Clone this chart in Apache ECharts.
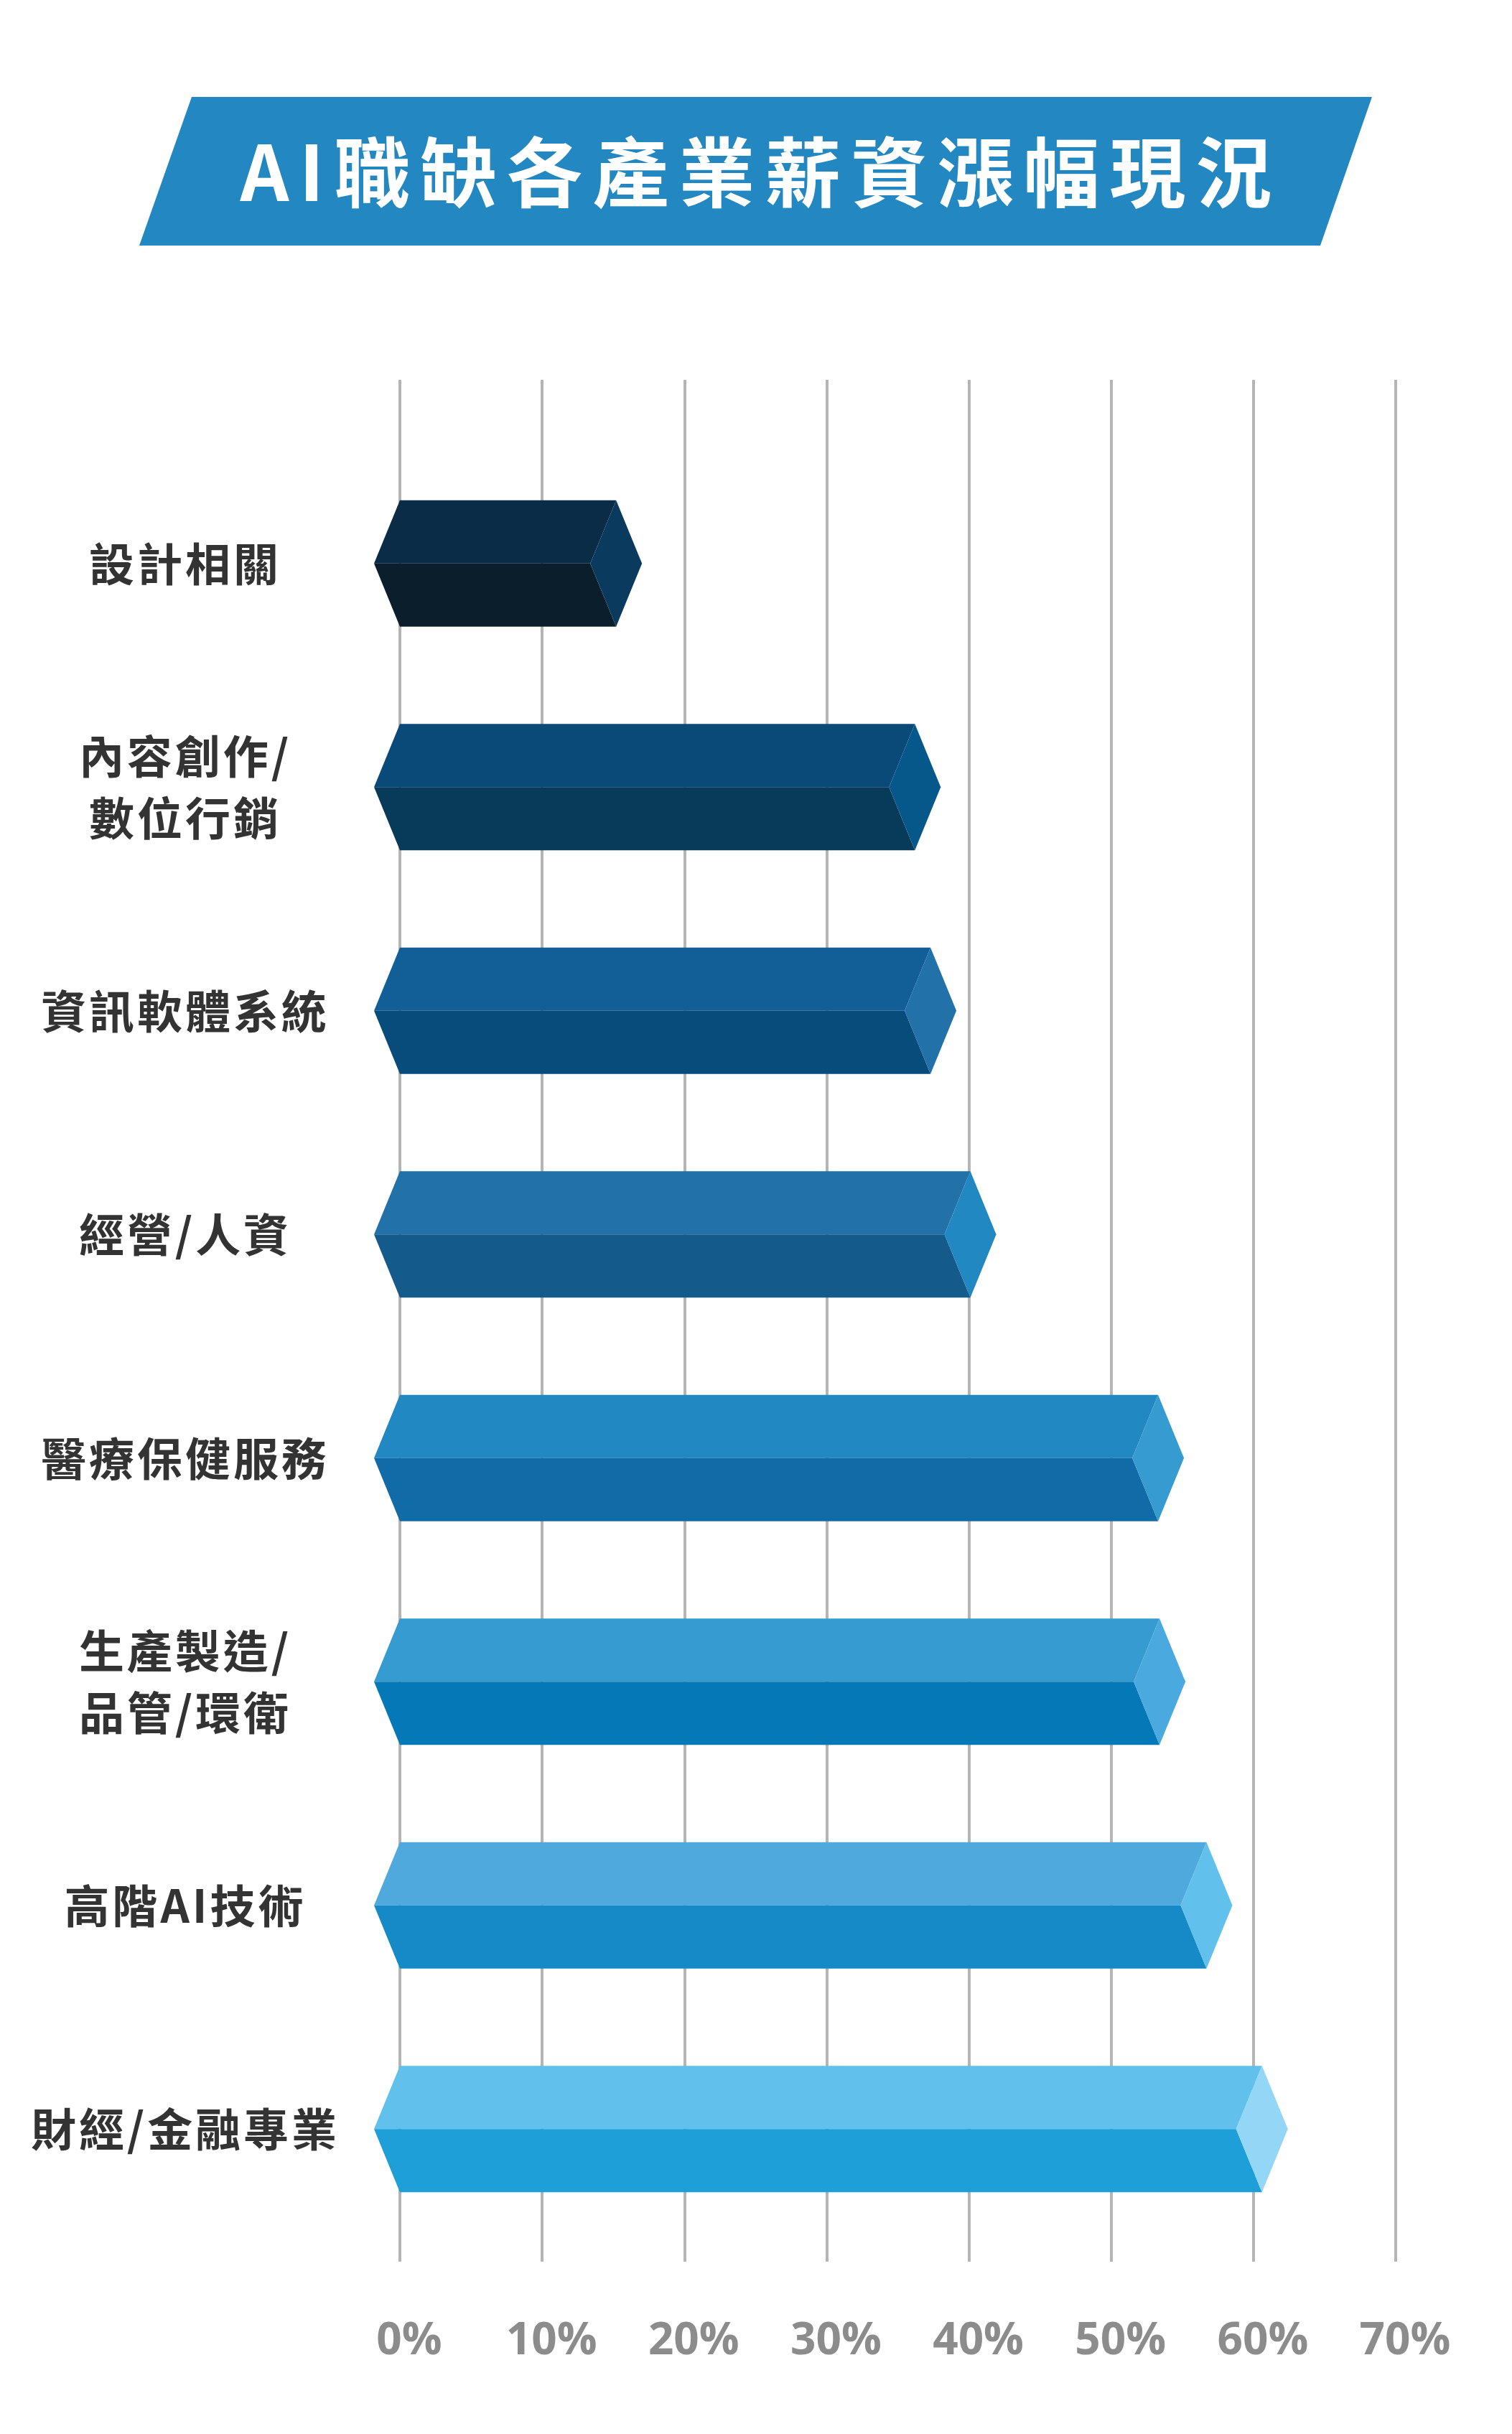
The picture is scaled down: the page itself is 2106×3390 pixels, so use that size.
<!DOCTYPE html>
<html>
<head>
<meta charset="utf-8">
<title>AI職缺各產業薪資漲幅現況</title>
<script src="https://cdn.jsdelivr.net/npm/echarts@6/dist/echarts.min.js"></script>
<style type="text/css">
html, body {margin: 0; padding: 0; background: #fff;}
#main {width: 2106px; height: 3390px;}
</style>
</head>
<body>
<div id="main"></div>
<script type="text/javascript">
// 資料
var categories = ['設計相關', '內容創作/\n數位行銷', '資訊軟體系統', '經營/人資', '醫療保健服務', '生產製造/\n品管/環衛', '高階AI技術', '財經/金融專業'];
var values = [15.2, 36.2, 37.3, 40.1, 53.3, 53.4, 56.7, 60.6];
var tickLabels = ['0%', '10%', '20%', '30%', '40%', '50%', '60%', '70%'];
var titleText = 'AI職缺各產業薪資漲幅現況';

// 每根柱子的三個面
var topColors = ['#0b2c47', '#0a4a79', '#125e96', '#2371a9', '#2288c2', '#359bd0', '#4fa9dd', '#61c0ec'];
var bottomColors = ['#0a1f2b', '#083a5a', '#084c7c', '#145a8b', '#116ba7', '#0579b8', '#158ac6', '#1e9fd8'];
var sideColors = ['#0a3b5e', '#07588a', '#2371a9', '#2188c2', '#359bd0', '#4aa9de', '#61c0ec', '#94d6f5'];

var FONT = '"Noto Sans CJK TC", "Noto Sans", sans-serif';
var HS = '\u200a';

function spaced(s) {
    return s.split('\n').map(function (line) {
        return line.split('').join(HS);
    }).join('\n');
}

var myChart = echarts.init(document.getElementById('main'));

var option = {
    backgroundColor: '#ffffff',
    animation: false,
    graphic: [
        {
            type: 'polygon',
            shape: {points: [[267, 135], [1911, 135], [1839, 342], [194, 342]]},
            style: {fill: '#2387c1'}
        },
        {
            type: 'text',
            x: 1053,
            y: 240,
            style: {
                text: titleText.split('').map(function (c) { return '{c|' + c + '}'; }).join(''),
                align: 'center',
                verticalAlign: 'middle',
                rich: {
                    c: {
                        font: 'bold 106px ' + FONT,
                        fill: '#ffffff',
                        padding: [0, 7, 0, 7]
                    }
                }
            }
        }
    ],
    grid: [
        {left: 557, right: 162, top: 529, bottom: 240},
        {left: 557, right: 162, top: 629, bottom: 269}
    ],
    xAxis: [
        {
            type: 'value',
            gridIndex: 0,
            min: 0,
            max: 70,
            interval: 10,
            axisLine: {show: false},
            axisTick: {show: false},
            splitLine: {show: true, lineStyle: {color: '#b5b5b5', width: 4}},
            axisLabel: {
                margin: 80,
                fontSize: 62,
                fontWeight: 'bold',
                fontFamily: '"Open Sans", sans-serif',
                color: '#8c8c8c',
                padding: [0, 0, 0, 26],
                formatter: function (v) { return tickLabels[Math.round(v / 10)]; }
            }
        },
        {
            type: 'value',
            gridIndex: 1,
            min: 0,
            max: 70,
            show: false
        }
    ],
    yAxis: [
        {
            type: 'value',
            gridIndex: 0,
            min: 0,
            max: 1,
            show: false
        },
        {
            type: 'category',
            gridIndex: 1,
            inverse: true,
            data: categories,
            axisLine: {show: false},
            axisTick: {show: false},
            splitLine: {show: false},
            axisLabel: {
                margin: 301,
                align: 'center',
                fontSize: 63,
                lineHeight: 86,
                fontWeight: 'bold',
                fontFamily: FONT,
                color: '#333333',
                formatter: function (v) { return spaced(v); }
            }
        }
    ],
    series: [
        {
            type: 'custom',
            xAxisIndex: 1,
            yAxisIndex: 1,
            data: values.map(function (v, i) { return [v, i]; }),
            renderItem: function (params, api) {
                var i = api.value(1);
                var p0 = api.coord([0, i]);
                var p1 = api.coord([api.value(0), i]);
                var h = api.size([0, 1])[1] * 0.565 / 2;
                var d = 36;
                var x0 = p0[0], x1 = p1[0], y = p0[1];
                return {
                    type: 'group',
                    children: [
                        {
                            type: 'polygon',
                            shape: {points: [[x0 - d, y], [x0, y - h], [x1, y - h], [x1 - d, y]]},
                            style: {fill: topColors[i]}
                        },
                        {
                            type: 'polygon',
                            shape: {points: [[x0 - d, y], [x1 - d, y], [x1, y + h], [x0, y + h]]},
                            style: {fill: bottomColors[i]}
                        },
                        {
                            type: 'polygon',
                            shape: {points: [[x1, y - h], [x1 + d, y], [x1, y + h], [x1 - d, y]]},
                            style: {fill: sideColors[i]}
                        }
                    ]
                };
            }
        }
    ]
};

myChart.setOption(option);
</script>
</body>
</html>
